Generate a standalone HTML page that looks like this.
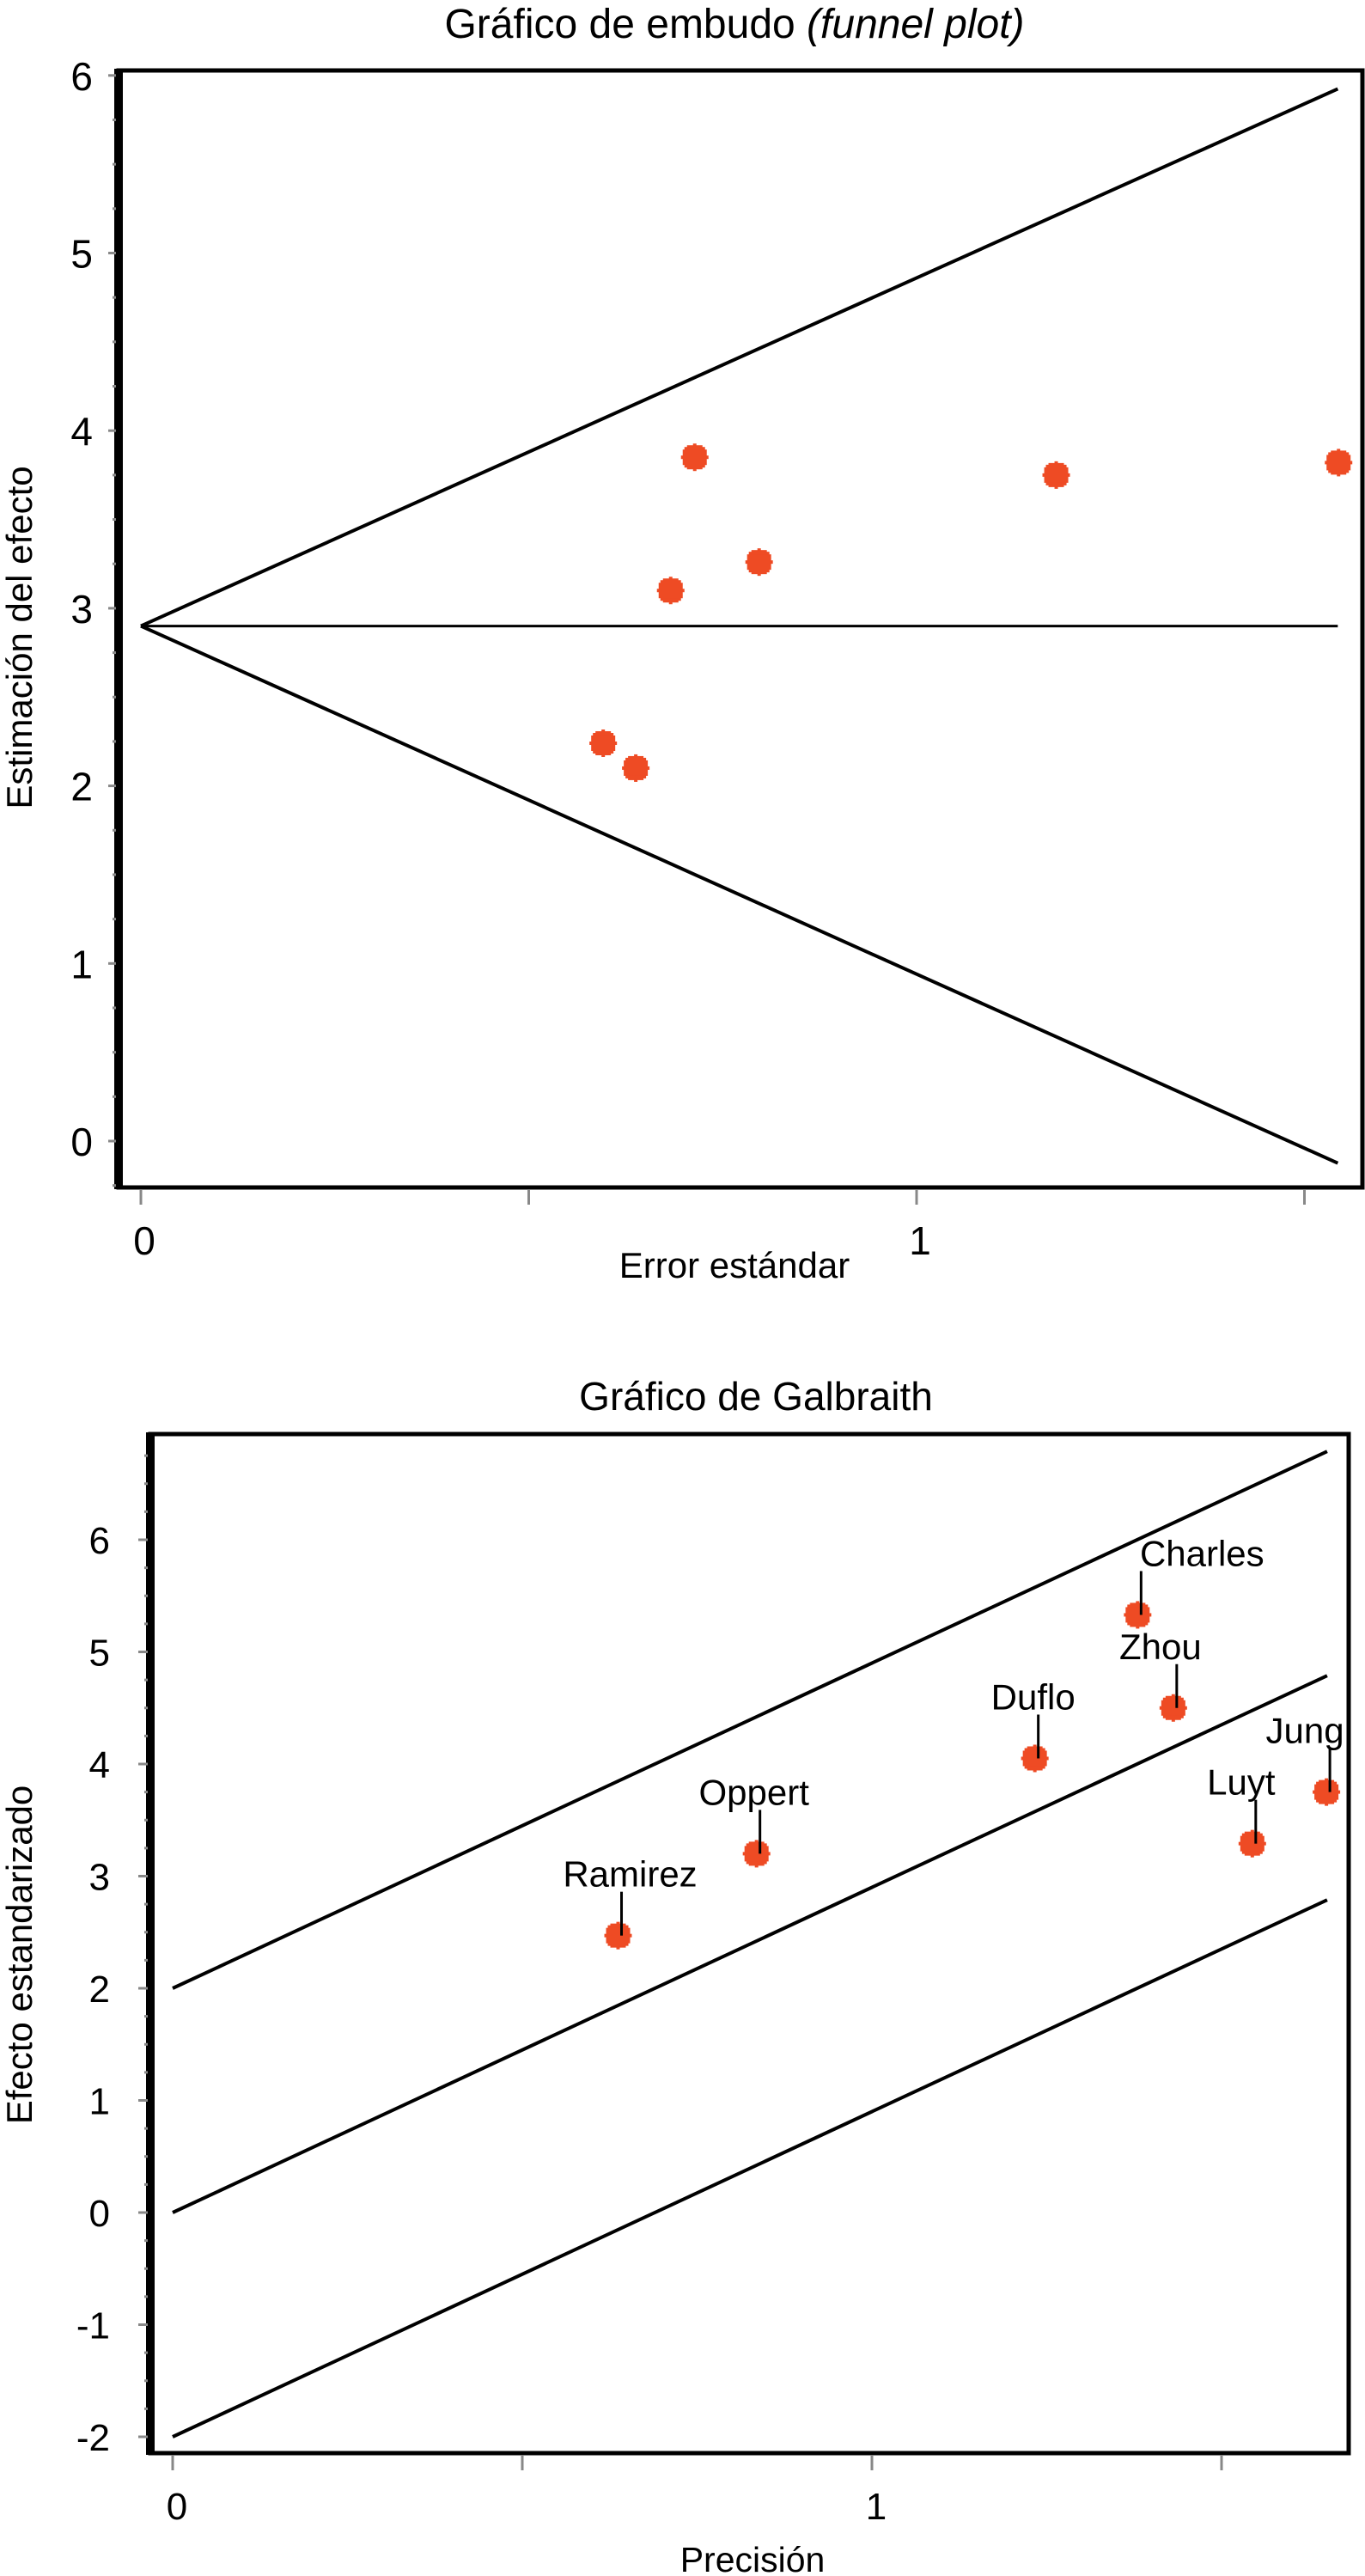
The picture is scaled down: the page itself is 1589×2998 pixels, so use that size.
<!DOCTYPE html>
<html><head><meta charset="utf-8"><style>
html,body{margin:0;padding:0;background:#fff}
svg{display:block}
text{font-family:"Liberation Sans",sans-serif;fill:#000}
</style></head><body>
<svg id="s" width="1589" height="2998" viewBox="0 0 1589 2998" xmlns="http://www.w3.org/2000/svg">
<g id="p1"></g>
<g id="p2"></g>
</svg>
<script>
// Funnel plot data
const funnelSE = [0.714, 0.683, 0.797, 0.596, 0.638, 1.180, 1.544];
const funnelEffect = [3.85, 3.10, 3.26, 2.24, 2.10, 3.75, 3.82];
const funnelPooled = [2.9];
const funnelMaxSE = [1.543];
const funnelYTicks = [0, 1, 2, 3, 4, 5, 6];
const funnelXTicks = [0, 1];
// Galbraith plot data
const galNames = ["Ramirez", "Oppert", "Duflo", "Charles", "Zhou", "Luyt", "Jung"];
const galPrecision = [0.637, 0.835, 1.233, 1.380, 1.431, 1.544, 1.650];
const galZ = [2.47, 3.20, 4.05, 5.33, 4.50, 3.29, 3.75];
const galSlope = [2.9];
const galMaxX = [1.651];
const galYTicks = [-2, -1, 0, 1, 2, 3, 4, 5, 6];
const galXTicks = [0, 1];

const NS = "http://www.w3.org/2000/svg";
function mk(parent, tag, attrs, txt) {
  const e = document.createElementNS(NS, tag);
  for (const k in attrs) e.setAttribute(k, attrs[k]);
  if (txt !== undefined) e.textContent = txt;
  parent.appendChild(e);
  return e;
}
function marker(g, cx, cy) {
  const m = mk(g, "g", {});
  
  
  mk(m, "rect", {x: cx - 12, y: cy - 12, width: 24, height: 24, fill: "#ee4b24"});
  mk(m, "rect", {x: cx - 16, y: cy - 2, width: 32, height: 4, fill: "#ee4b24"});
  mk(m, "rect", {x: cx - 2, y: cy - 16, width: 4, height: 32, fill: "#ee4b24"});
  mk(m, "rect", {x: cx - 9, y: cy - 14, width: 18, height: 28, fill: "#ee4b24"});
  mk(m, "rect", {x: cx - 14, y: cy - 9, width: 28, height: 18, fill: "#ee4b24"});
  return m;
}
function frame(g, L, T, R, B) {
  const f = mk(g, "g", {});
  
  
  mk(f, "rect", {x: L, y: T, width: R - L, height: B - T, fill: "none", stroke: "#000", "stroke-width": 5});
  mk(f, "line", {x1: L, y1: T - 2, x2: L, y2: B + 2, stroke: "#000", "stroke-width": 10});
}

// ---------- Plot 1 ----------
(function () {
  const g = document.getElementById("p1");
  const L = 138, R = 1586, T = 82, B = 1382;
  const x = v => 164 + v * 903;
  const y = v => 1328 - v * 206.7;
  frame(g, L, T, R, B);
  for (let v = -0.25; v <= 6.01; v += 0.25) {
    const major = Math.abs(v - Math.round(v)) < 1e-6;
    const t = mk(g, "line", {x1: L - (major ? 12 : 7), y1: y(v), x2: L - 3, y2: y(v), stroke: "#888", "stroke-width": 3});
    
    
  }
  funnelYTicks.forEach(v => {
    const t = mk(g, "text", {x: 108, y: y(v) + 17, "font-size": 46, "text-anchor": "end"}, String(v));
    
    
  });
  [0, 0.5, 1, 1.5].forEach(v => {
    const t = mk(g, "line", {x1: x(v), y1: B + 3, x2: x(v), y2: B + 20, stroke: "#888", "stroke-width": 3});
    
    
  });
  funnelXTicks.forEach(v => {
    const t = mk(g, "text", {x: x(v) + 4, y: 1460, "font-size": 46, "text-anchor": "middle"}, String(v));
    
    
  });
  const p = funnelPooled[0], m = funnelMaxSE[0];
  const up = mk(g, "line", {x1: x(0), y1: y(p), x2: x(m), y2: y(p + 1.96 * m), stroke: "#000", "stroke-width": 4});
  
  
  const lo = mk(g, "line", {x1: x(0), y1: y(p), x2: x(m), y2: y(p - 1.96 * m), stroke: "#000", "stroke-width": 4});
  
  
  const hz = mk(g, "line", {x1: x(0), y1: y(p), x2: x(m), y2: y(p), stroke: "#000", "stroke-width": 3});
  
  
  funnelSE.forEach((s, i) => marker(g, x(s), y(funnelEffect[i])));
  const ti = mk(g, "text", {x: 855, y: 44, "font-size": 48, "text-anchor": "middle"});
  
  
  mk(ti, "tspan", {}, "Gráfico de embudo ");
  mk(ti, "tspan", {"font-style": "italic"}, "(funnel plot)");
  const xl = mk(g, "text", {x: 855, y: 1487, "font-size": 42, "text-anchor": "middle"}, "Error estándar");
  
  
  const yl = mk(g, "text", {x: 0, y: 0, "font-size": 42, "text-anchor": "middle", transform: "translate(37,742) rotate(-90)"}, "Estimación del efecto");
  
  
})();

// ---------- Plot 2 ----------
(function () {
  const g = document.getElementById("p2");
  const L = 175, R = 1570, T = 1669, B = 2855;
  const x = v => 201 + v * 814;
  const y = v => 2575 - v * 130.5;
  frame(g, L, T, R, B);
  for (let v = -2; v <= 6.76; v += 0.25) {
    const major = Math.abs(v - Math.round(v)) < 1e-6;
    const t = mk(g, "line", {x1: L - (major ? 14 : 7), y1: y(v), x2: L - 3, y2: y(v), stroke: "#888", "stroke-width": 3});
    
    
  }
  galYTicks.forEach(v => {
    const t = mk(g, "text", {x: 128, y: y(v) + 16, "font-size": 44, "text-anchor": "end"}, String(v));
    
    
  });
  [0, 0.5, 1, 1.5].forEach(v => {
    const t = mk(g, "line", {x1: x(v), y1: B + 3, x2: x(v), y2: B + 20, stroke: "#888", "stroke-width": 3});
    
    
  });
  galXTicks.forEach(v => {
    const t = mk(g, "text", {x: x(v) + 5, y: 2932, "font-size": 44, "text-anchor": "middle"}, String(v));
    
    
  });
  const s = galSlope[0], m = galMaxX[0];
  [[2, 'upper-bound-line'], [0, 'regression-line'], [-2, 'lower-bound-line']].forEach(([o, nm]) => {
    const l = mk(g, "line", {x1: x(0), y1: y(o), x2: x(m), y2: y(o + s * m), stroke: "#000", "stroke-width": 4});
    
    
  });
  const labelDx = [14, -3, -2, 75, -15, -13, -25];
  galPrecision.forEach((p, i) => {
    const cx = x(p), cy = y(galZ[i]);
    marker(g, cx, cy);
    const ld = mk(g, "line", {x1: cx + 4, y1: cy, x2: cx + 4, y2: cy - 51, stroke: "#000", "stroke-width": 3});
    
    
    const t = mk(g, "text", {x: cx + labelDx[i], y: cy - 57, "font-size": 42, "text-anchor": "middle"}, galNames[i]);
    
    
  });
  const ti = mk(g, "text", {x: 880, y: 1641, "font-size": 46, "text-anchor": "middle"}, "Gráfico de Galbraith");
  
  
  const xl = mk(g, "text", {x: 876, y: 2993, "font-size": 41, "text-anchor": "middle"}, "Precisión");
  
  
  const yl = mk(g, "text", {x: 0, y: 0, "font-size": 42, "text-anchor": "middle", transform: "translate(37,2275) rotate(-90)"}, "Efecto estandarizado");
  
  
})();
</script>
</body></html>
